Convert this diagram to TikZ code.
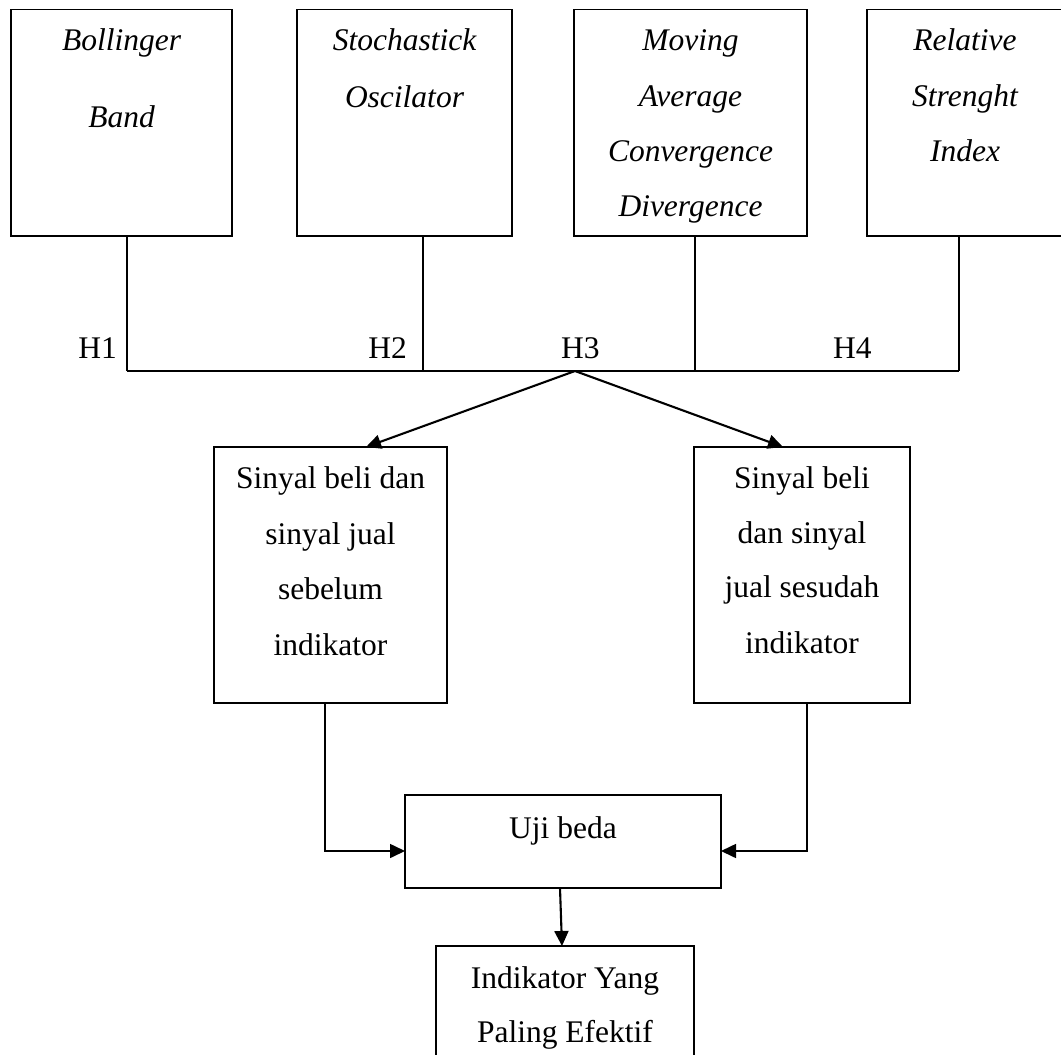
\documentclass[tikz,border=0pt]{standalone}
\usepackage{fontspec}
\setmainfont{Liberation Serif}
\usetikzlibrary{arrows.meta}
\begin{document}
\begin{tikzpicture}[x=1pt,y=-1pt,
  box/.style={draw, line width=1.6pt, inner sep=0pt, outer sep=0pt, rectangle},
  lbl/.style={font=\fontsize{31.5}{38}\selectfont, inner sep=0pt, anchor=base},
  ilbl/.style={inner sep=0pt, anchor=base, font=\fontsize{31.5}{38}\selectfont\itshape},
  conn/.style={line width=1.6pt},
  arr/.style={line width=2.1pt, -{Triangle[length=15pt,width=14pt]}}]
\useasboundingbox (0,0) rectangle (1061,1055);

% top boxes
\node[box, minimum width=221pt, minimum height=226.5pt] (b1) at (121.5,122.75) {};
\node[box, minimum width=215pt, minimum height=226.5pt] (b2) at (404.5,122.75) {};
\node[box, minimum width=233pt, minimum height=226.5pt] (b3) at (690.5,122.75) {};
\node[box, minimum width=196pt, minimum height=226.5pt] (b4) at (965,122.75) {};

\node[ilbl] (t1a) at (121.5,50) {Bollinger};
\node[ilbl] (t1b) at (121.5,127) {Band};
\node[ilbl] (t2a) at (404.5,50) {Stochastick};
\node[ilbl] (t2b) at (404.5,107) {Oscilator};
\node[ilbl] (t3a) at (690.5,50) {Moving};
\node[ilbl] (t3b) at (690.5,106) {Average};
\node[ilbl] (t3c) at (690.5,161) {Convergence};
\node[ilbl] (t3d) at (690.5,216) {Divergence};
\node[ilbl] (t4a) at (965,50) {Relative};
\node[ilbl] (t4b) at (965,106) {Strenght};
\node[ilbl] (t4c) at (965,161) {Index};

% junction line
\coordinate (j1) at (127,371);
\coordinate (j2) at (423,371);
\coordinate (j3) at (695,371);
\coordinate (j4) at (959,371);
\coordinate (apex) at (575,371);
\draw[conn] (j1 |- b1.south) -- (j1);
\draw[conn] (j2 |- b2.south) -- (j2);
\draw[conn] (j3 |- b3.south) -- (j3);
\draw[conn] (j4 |- b4.south) -- (j4);
\draw[conn] (j1) -- (j4);

\node[lbl, anchor=base east] (h1) at (117,358) {H1};
\node[lbl, anchor=base east] (h2) at (407,358) {H2};
\node[lbl, anchor=base west] (h3) at (561,358) {H3};
\node[lbl, anchor=base west] (h4) at (833,358) {H4};

% middle boxes
\node[box, minimum width=233pt, minimum height=256pt] (sl) at (330.5,575) {};
\node[box, minimum width=216pt, minimum height=256pt] (sr) at (802,575) {};
\node[lbl] (sl1) at (330.5,488) {Sinyal beli dan};
\node[lbl] (sl2) at (330.5,544) {sinyal jual};
\node[lbl] (sl3) at (330.5,599) {sebelum};
\node[lbl] (sl4) at (330.5,655) {indikator};
\node[lbl] (sr1) at (802,488) {Sinyal beli};
\node[lbl] (sr2) at (802,543) {dan sinyal};
\node[lbl] (sr3) at (802,597) {jual sesudah};
\node[lbl] (sr4) at (802,653) {indikator};

\draw[arr] (apex) -- ([xshift=35.5pt]sl.north);
\draw[arr] (apex) -- ([xshift=-19pt]sr.north);

% test box
\node[box, minimum width=316pt, minimum height=93pt] (uji) at (563,841.5) {};
\node[lbl] (ujit) at (563,838) {Uji beda};
\draw[arr, line width=1.6pt] ([xshift=-5.5pt]sl.south) |- ([yshift=-9.5pt]uji.west);
\draw[arr, line width=1.6pt] ([xshift=5pt]sr.south) |- ([yshift=-9.5pt]uji.east);

% final box
\node[box, minimum width=258pt, minimum height=144pt] (fin) at (565,1018) {};
\node[lbl] (fin1) at (565,988) {Indikator Yang};
\node[lbl] (fin2) at (565,1042) {Paling Efektif};
\draw[arr] ([xshift=-3pt]uji.south) -- ([xshift=-3pt]fin.north);
\end{tikzpicture}
\end{document}
